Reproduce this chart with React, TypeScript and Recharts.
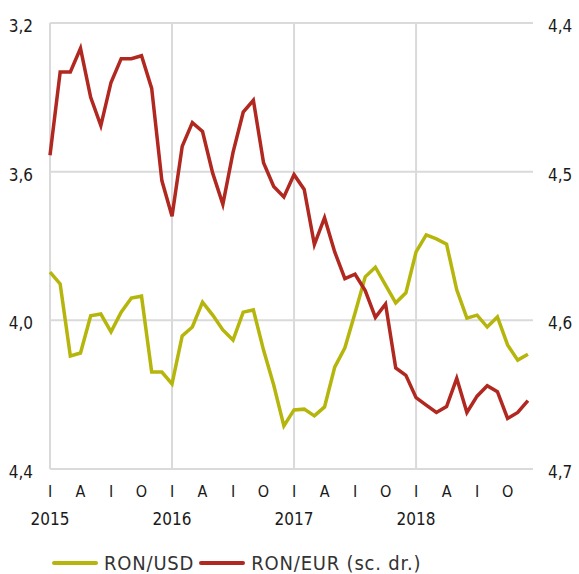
import {
  LineChart,
  Line,
  XAxis,
  YAxis,
  CartesianGrid,
  ReferenceLine,
  Legend,
} from 'recharts'

// Monthly, Jan 2015 - Dec 2018
const YEARS = ['2015', '2016', '2017', '2018']
const QUARTER_LABELS = ['I', 'A', 'I', 'O']

const RON_USD = [
  3.87, 3.902, 4.096, 4.088, 3.988, 3.983, 4.031, 3.978, 3.94, 3.935, 4.139, 4.139,
  4.171, 4.042, 4.018, 3.951, 3.986, 4.026, 4.053, 3.978, 3.972, 4.08, 4.174, 4.284,
  4.241, 4.239, 4.257, 4.233, 4.126, 4.074, 3.98, 3.883, 3.857, 3.905, 3.953, 3.926,
  3.816, 3.77, 3.781, 3.795, 3.918, 3.994, 3.986, 4.018, 3.991, 4.066, 4.107, 4.091,
]

const RON_EUR = [
  4.489, 4.433, 4.433, 4.417, 4.45, 4.469, 4.44, 4.424, 4.424, 4.422, 4.444, 4.506,
  4.53, 4.483, 4.467, 4.473, 4.501, 4.522, 4.487, 4.46, 4.452, 4.494, 4.51, 4.517,
  4.502, 4.512, 4.549, 4.531, 4.554, 4.572, 4.569, 4.58, 4.598, 4.589, 4.632, 4.637,
  4.652, 4.657, 4.662, 4.658, 4.639, 4.662, 4.651, 4.644, 4.648, 4.666, 4.662, 4.654,
]

const LEFT_TICKS = [3.2, 3.6, 4.0, 4.4]
const RIGHT_TICKS = [4.4, 4.5, 4.6, 4.7]

const FONT = '"Liberation Sans Narrow", "DejaVu Sans Condensed", sans-serif'
const GREEN = '#b5b50c'
const RED = '#b0281f'
const GRID = '#dadada'
const TEXT = '#1a1a1a'

const data = RON_USD.map((usd, i) => ({ month: i, usd, eur: RON_EUR[i] }))
const monthTicks = data.filter((d) => d.month % 3 === 0).map((d) => d.month)
const yearTicks = data.filter((d) => d.month % 12 === 0).map((d) => d.month)

function fmt(v: number) {
  return v.toFixed(1).replace('.', ',')
}

interface TickProps {
  x?: number | string
  y?: number | string
  payload?: { value: number }
}

function MonthTick({ x, y, payload }: TickProps) {
  if (!payload) return null
  const m = payload.value
  const label = QUARTER_LABELS[(m / 3) % 4]
  const year = m % 12 === 0 ? YEARS[m / 12] : null
  return (
    <g>
      <text
        x={Number(x)}
        y={Number(y)}
        dy={28}
        textAnchor='middle'
        fill={TEXT}
        style={{ fontFamily: FONT, fontSize: 16 }}
      >
        {label}
      </text>
      {year && (
        <text
          x={Number(x)}
          y={Number(y)}
          dy={56}
          textAnchor='middle'
          fill={TEXT}
          style={{ fontFamily: FONT, fontSize: 17 }}
        >
          {year}
        </text>
      )}
    </g>
  )
}

function LeftTick({ x, y, payload }: TickProps) {
  if (!payload) return null
  return (
    <text
      x={Number(x)}
      y={Number(y)}
      dy={9}
      textAnchor='end'
      fill={TEXT}
      style={{ fontFamily: FONT, fontSize: 17 }}
    >
      {fmt(payload.value)}
    </text>
  )
}

function RightTick({ x, y, payload }: TickProps) {
  if (!payload) return null
  return (
    <text
      x={Number(x)}
      y={Number(y)}
      dy={9}
      textAnchor='start'
      fill={TEXT}
      style={{ fontFamily: FONT, fontSize: 17 }}
    >
      {fmt(payload.value)}
    </text>
  )
}

function LegendContent() {
  const item = (color: string, label: string, gap: number) => (
    <div style={{ display: 'flex', alignItems: 'center', marginRight: gap }}>
      <span
        style={{
          display: 'inline-block',
          width: 46,
          height: 4,
          background: color,
          borderRadius: 2,
          marginRight: 6,
        }}
      />
      <span
        style={{
          fontFamily: FONT,
          fontSize: 20,
          letterSpacing: 0.8,
          lineHeight: '22px',
          color: '#333',
        }}
      >
        {label}
      </span>
    </div>
  )
  return (
    <div
      style={{
        display: 'flex',
        alignItems: 'center',
        height: 22,
        paddingLeft: 52,
      }}
    >
      {item(GREEN, 'RON/USD', 5)}
      {item(RED, 'RON/EUR (sc. dr.)', 0)}
    </div>
  )
}

export default function App() {
  return (
    <div
      style={{
        position: 'fixed',
        left: 0,
        top: 0,
        width: 579,
        height: 574,
        overflow: 'hidden',
        background: '#fff',
      }}
    >
      <LineChart
        width={579}
        height={574}
        data={data}
        margin={{ top: 23, right: 0, left: 0, bottom: 0 }}
      >
        <CartesianGrid
          yAxisId='left'
          vertical={false}
          stroke={GRID}
          strokeWidth={2}
        />
        {yearTicks.map((m) => (
          <ReferenceLine
            key={m}
            x={m}
            yAxisId='left'
            stroke={GRID}
            strokeWidth={2}
          />
        ))}
        <XAxis
          dataKey='month'
          type='number'
          domain={[0, 47.5]}
          ticks={monthTicks}
          interval={0}
          tickLine={false}
          axisLine={false}
          tickSize={0}
          tickMargin={0}
          height={83}
          tick={MonthTick}
        />
        <YAxis
          yAxisId='left'
          orientation='left'
          reversed
          domain={[3.2, 4.4]}
          ticks={LEFT_TICKS}
          interval={0}
          width={50}
          tickLine={false}
          axisLine={false}
          tickSize={0}
          tickMargin={17}
          tick={LeftTick}
        />
        <YAxis
          yAxisId='right'
          orientation='right'
          reversed
          domain={[4.4, 4.7]}
          ticks={RIGHT_TICKS}
          interval={0}
          width={46}
          tickLine={false}
          axisLine={false}
          tickSize={0}
          tickMargin={15}
          tick={RightTick}
        />
        <Legend
          verticalAlign='bottom'
          height={22}
          wrapperStyle={{ top: 552, bottom: 'auto', height: 22 }}
          content={() => <LegendContent />}
        />
        <Line
          yAxisId='left'
          dataKey='usd'
          name='RON/USD'
          type='linear'
          stroke={GREEN}
          strokeWidth={3.5}
          dot={false}
          isAnimationActive={false}
        />
        <Line
          yAxisId='right'
          dataKey='eur'
          name='RON/EUR (sc. dr.)'
          type='linear'
          stroke={RED}
          strokeWidth={3.5}
          dot={false}
          isAnimationActive={false}
        />
      </LineChart>
    </div>
  )
}
